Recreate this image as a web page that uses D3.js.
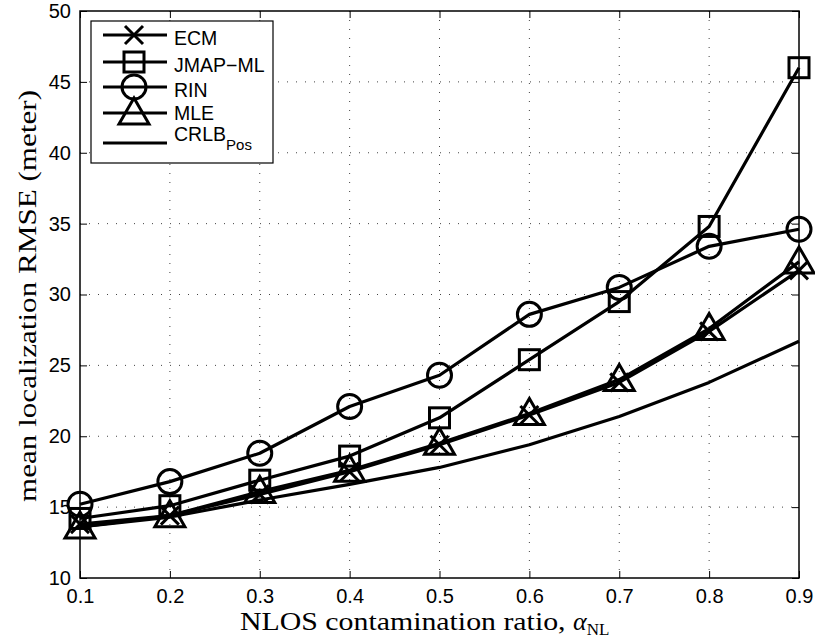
<!DOCTYPE html>
<html>
<head>
<meta charset="utf-8">
<script src="https://cdn.jsdelivr.net/npm/d3@7"></script>
<style>
  body { margin: 0; background: #fff; }
  svg { display: block; }
  .tick text { font-family: "Liberation Sans", Arial, sans-serif; font-size: 20px; fill: #000; }
  .lbl { font-family: "Liberation Serif", "DejaVu Serif", serif; font-size: 26px; fill: #000; }
  .leg { font-family: "Liberation Sans", Arial, sans-serif; font-size: 19.5px; fill: #000; }
</style>
</head>
<body>
<div id="chart"></div>
<script>
// data
const ratios = [0.1, 0.2, 0.3, 0.4, 0.5, 0.6, 0.7, 0.8, 0.9];
const ecm  = [13.8, 14.4, 15.9, 17.5, 19.4, 21.5, 23.8, 27.4, 31.7];
const jmap = [14.2, 15.1, 16.9, 18.6, 21.3, 25.4, 29.5, 34.8, 46.0];
const rin  = [15.2, 16.8, 18.8, 22.1, 24.3, 28.6, 30.5, 33.4, 34.6];
const mle  = [13.6, 14.4, 16.1, 17.6, 19.5, 21.6, 24.0, 27.6, 32.3];
const crlb = [13.6, 14.3, 15.5, 16.6, 17.8, 19.4, 21.4, 23.8, 26.7];
const yTicks = [10, 15, 20, 25, 30, 35, 40, 45, 50];

const series = [
  { name: 'ECM', values: ecm, marker: 'cross' },
  { name: 'JMAP\u2212ML', values: jmap, marker: 'square' },
  { name: 'RIN', values: rin, marker: 'circle' },
  { name: 'MLE', values: mle, marker: 'triangle' },
  { name: 'CRLB', sub: 'Pos', values: crlb, marker: null },
];

const width = 815, height = 641;
const margin = { top: 11, right: 16, bottom: 63, left: 80 };
const w = width - margin.left - margin.right;
const h = height - margin.top - margin.bottom;

const svg = d3.select('#chart').append('svg')
  .attr('width', width)
  .attr('height', height);

const g = svg.append('g')
  .attr('transform', `translate(${margin.left},${margin.top})`);

const x = d3.scaleLinear().domain([0.1, 0.9]).range([0, w]);
const y = d3.scaleLinear().domain([10, 50]).range([h, 0]);

// dotted grid
g.append('g').selectAll('line').data(ratios.slice(1, -1)).join('line')
  .attr('x1', d => x(d)).attr('x2', d => x(d))
  .attr('y1', 0).attr('y2', h)
  .attr('stroke', '#444').attr('stroke-width', 1).attr('stroke-dasharray', '1,8');
g.append('g').selectAll('line').data(yTicks.slice(1, -1)).join('line')
  .attr('y1', d => y(d)).attr('y2', d => y(d))
  .attr('x1', 0).attr('x2', w)
  .attr('stroke', '#444').attr('stroke-width', 1).attr('stroke-dasharray', '1,8');

// axes with inward ticks
g.append('g').attr('transform', `translate(0,${h})`)
  .call(d3.axisBottom(x).tickValues(ratios).tickFormat(d3.format('.1f')).tickSizeInner(-7).tickSizeOuter(0).tickPadding(11));
g.append('g')
  .call(d3.axisLeft(y).tickValues(yTicks).tickSizeInner(-7).tickSizeOuter(0).tickPadding(9));
g.append('g')
  .call(d3.axisTop(x).tickValues(ratios).tickFormat('').tickSizeInner(-7).tickSizeOuter(0));
g.append('g').attr('transform', `translate(${w},0)`)
  .call(d3.axisRight(y).tickValues(yTicks).tickFormat('').tickSizeInner(-7).tickSizeOuter(0));
g.selectAll('.domain').remove();
g.selectAll('.tick line').attr('stroke', '#000');

g.append('rect')
  .attr('width', w).attr('height', h)
  .attr('fill', 'none').attr('stroke', '#000').attr('stroke-width', 1.5);

// series
const line = d3.line().x((d, i) => x(ratios[i])).y(d => y(d));

function drawMarker(sel, type) {
  if (type === 'circle') {
    sel.append('circle').attr('r', 12);
  } else if (type === 'square') {
    sel.append('rect').attr('x', -10).attr('y', -10).attr('width', 20).attr('height', 20);
  } else if (type === 'triangle') {
    sel.append('path').attr('d', 'M0,-15L15,11L-15,11Z');
  } else if (type === 'cross') {
    sel.append('path').attr('d', 'M-9,-9L9,9M-9,9L9,-9');
  }
}

series.forEach(s => {
  g.append('path')
    .datum(s.values)
    .attr('fill', 'none')
    .attr('stroke', '#000')
    .attr('stroke-width', 3.2)
    .attr('stroke-linejoin', 'round')
    .attr('d', line);
  if (s.marker) {
    s.values.forEach((v, i) => {
      const m = g.append('g')
        .attr('transform', `translate(${x(ratios[i])},${y(v)})`)
        .attr('fill', 'none').attr('stroke', '#000').attr('stroke-width', 3);
      drawMarker(m, s.marker);
    });
  }
});

// legend
const leg = svg.append('g').attr('transform', 'translate(91,21)');
leg.append('rect')
  .attr('width', 182).attr('height', 142)
  .attr('fill', '#fff').attr('stroke', '#000').attr('stroke-width', 1.2);
const rowY = [14, 41, 66, 92, 122];
const textY = [24, 51, 76, 99, 120];
series.forEach((s, i) => {
  const r = leg.append('g').attr('transform', `translate(0,${rowY[i]})`);
  r.append('line').attr('x1', 12).attr('x2', 76)
    .attr('stroke', '#000').attr('stroke-width', 3.2);
  if (s.marker) {
    const m = r.append('g').attr('transform', 'translate(43,0)')
      .attr('fill', 'none').attr('stroke', '#000').attr('stroke-width', 3);
    drawMarker(m, s.marker);
  }
  const t = leg.append('text').attr('class', 'leg').attr('x', 83).attr('y', textY[i]).text(s.name);
  if (s.sub) {
    t.append('tspan').attr('font-size', 15).attr('dy', 9).text(s.sub);
  }
});

// axis titles
const xl = svg.append('text').attr('class', 'lbl')
  .attr('x', 240).attr('y', 630);
xl.append('tspan').attr('textLength', 333).attr('lengthAdjust', 'spacingAndGlyphs')
  .text('NLOS contamination ratio,\u00a0');
xl.append('tspan').attr('font-style', 'italic').text('\u03b1');
xl.append('tspan').attr('font-size', 17).attr('dy', 5).text('NL');

svg.append('text').attr('class', 'lbl')
  .attr('transform', `translate(36,296) rotate(-90)`)
  .attr('text-anchor', 'middle')
  .attr('textLength', 412).attr('lengthAdjust', 'spacingAndGlyphs')
  .text('mean localization RMSE (meter)');
</script>
</body>
</html>
